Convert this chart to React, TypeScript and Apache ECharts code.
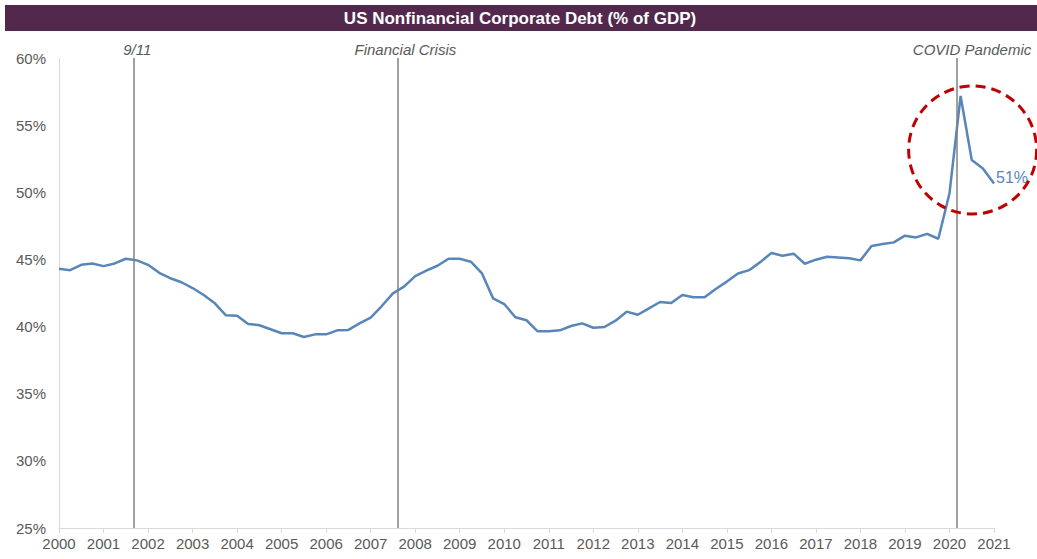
import React, { useEffect, useRef } from "react";
import * as echarts from "echarts";

const chartTitle = "US Nonfinancial Corporate Debt (% of GDP)";
const startYear = 2000;
const endYear = 2021;
// Quarterly values, 2000 Q1 .. 2021 Q1 (percent of GDP)
const debtPct = [
  44.3, 44.2, 44.6, 44.7, 44.5, 44.7, 45.05, 44.93, 44.6, 44.0,
  43.6, 43.3, 42.87, 42.35, 41.73, 40.84, 40.81, 40.2, 40.1, 39.8,
  39.5, 39.5, 39.22, 39.42, 39.42, 39.72, 39.75, 40.24, 40.66, 41.53,
  42.47, 42.97, 43.76, 44.16, 44.53, 45.05, 45.05, 44.83, 43.96, 42.1,
  41.68, 40.69, 40.47, 39.65, 39.65, 39.72, 40.04, 40.24, 39.91, 39.97,
  40.44, 41.11, 40.88, 41.36, 41.83, 41.75, 42.35, 42.18, 42.18, 42.8,
  43.35, 43.95, 44.2, 44.8, 45.48, 45.28, 45.43, 44.68, 44.98, 45.2,
  45.15, 45.08, 44.93, 46.0, 46.15, 46.27, 46.77, 46.64, 46.9, 46.54,
  49.92, 57.17, 52.4, 51.78, 50.66,
];
const eventNames = ["9/11", "Financial Crisis", "COVID Pandemic"];
const eventDates = [2001.69, 2007.6, 2020.17];
const eventLabelShift = [6, 16, 30];
const endLabelText = "51%";
const yMin = 25;
const yMax = 60;
const yStep = 5;

const FONT = "'Liberation Sans', Arial, sans-serif";

export default function App() {
  const ref = useRef<HTMLDivElement>(null);
  useEffect(() => {
    document.body.style.margin = "0";
    document.body.style.overflow = "hidden";
    const chart = echarts.init(ref.current!, null, { renderer: "svg" });
    const seriesData = debtPct.map((v, i) => [startYear + i / 4, v]);
    chart.setOption({
      animation: false,
      backgroundColor: "#ffffff",
      grid: { left: 59, right: 43, top: 58, bottom: 31, containLabel: false },
      xAxis: {
        type: "value",
        min: startYear,
        max: endYear,
        interval: 1,
        axisLine: { show: true, lineStyle: { color: "#d9d9d9", width: 1 } },
        axisTick: { show: true, length: 5, lineStyle: { color: "#d9d9d9" } },
        splitLine: { show: false },
        axisLabel: {
          color: "#595959",
          fontSize: 15,
          fontFamily: FONT,
          margin: 8,
          formatter: (v: number) => String(v),
        },
      },
      yAxis: {
        type: "value",
        min: yMin,
        max: yMax,
        interval: yStep,
        axisLine: { show: true, lineStyle: { color: "#d9d9d9", width: 1 } },
        axisTick: { show: false },
        splitLine: { show: false },
        axisLabel: {
          color: "#595959",
          fontSize: 15,
          fontFamily: FONT,
          margin: 13,
          formatter: "{value}%",
        },
      },
      series: [
        {
          type: "line",
          data: seriesData,
          showSymbol: false,
          symbol: "none",
          lineStyle: { color: "#5886b8", width: 2.5 },
          itemStyle: { color: "#5886b8" },
          endLabel: {
            show: true,
            formatter: endLabelText,
            color: "#5886b8",
            fontSize: 16,
            fontFamily: FONT,
            distance: 2,
            offset: [0, -6],
          },
          markLine: {
            silent: true,
            symbol: "none",
            animation: false,
            lineStyle: { color: "#808080", width: 1.5, type: "solid" },
            label: {
              show: true,
              position: "end",
              color: "#595959",
              fontStyle: "italic",
              fontSize: 15,
              fontFamily: FONT,
              distance: 1,
            },
            data: eventDates.map((d, i) => ({
              xAxis: d,
              label: {
                formatter: eventNames[i],
                padding: [0, 0, 0, eventLabelShift[i]],
              },
            })),
          },
        },
      ],
      graphic: [
        {
          id: "titleBar",
          type: "rect",
          shape: { x: 5, y: 5, width: 1032, height: 26 },
          style: { fill: "#52284d" },
          z: 10,
        },
        {
          id: "titleText",
          type: "text",
          x: 520,
          y: 18,
          style: {
            text: chartTitle,
            fill: "#ffffff",
            font: `bold 17px ${FONT}`,
            align: "center",
            verticalAlign: "middle",
          },
          z: 11,
        },
      ],
    });
    const center = chart.convertToPixel({ gridIndex: 0 }, [2020.52, 53.15]) as number[];
    chart.setOption({
      graphic: [
        {
          id: "covidCircle",
          type: "circle",
          shape: { cx: center[0], cy: center[1], r: 64 },
          style: { fill: "none", stroke: "#c00000", lineWidth: 3, lineDash: [10, 6] },
          z: 12,
        },
      ],
    });
    return () => chart.dispose();
  }, []);
  return <div ref={ref} style={{ width: 1037, height: 559 }} />;
}
